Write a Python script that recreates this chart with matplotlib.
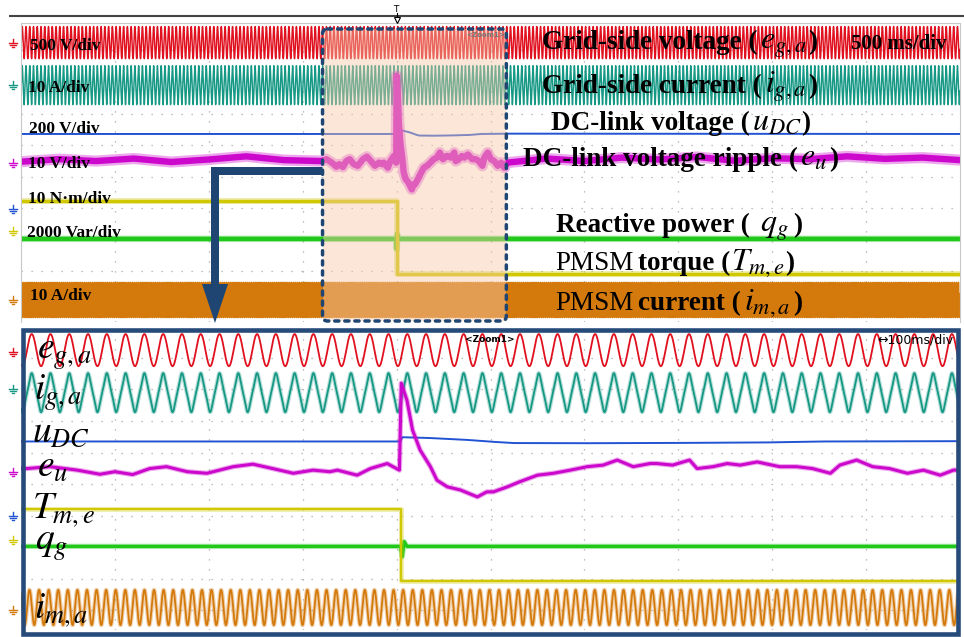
import numpy as np
import matplotlib
matplotlib.use('Agg')
import matplotlib.pyplot as plt
from matplotlib.patches import Polygon, FancyBboxPatch, Rectangle

plt.rcParams['mathtext.fontset'] = 'stix'

# time windows of the two screens (s): 500 ms/div main, 100 ms/div zoom
t_main = (-2.0, 3.0)
t_zoom = (-0.405, 0.595)

# grid side: 50 Hz voltage and current
f_grid = 50.0
e_ga_amp = 255.0          # V
i_ga_harm = [5.6, 0.6]    # A, fundamental and 3rd harmonic
grid_peak_t = 0.0064      # s

# PMSM phase current
f_motor = 98.0
i_ma_amp = 5.6            # A
motor_peak_t = 0.002

# DC-link voltage (V)
udc_t = [-2.0, -0.001, 0.001, 0.03, 0.07, 0.10, 0.12, 0.20, 0.30, 0.39, 0.45, 0.60, 3.0]
udc_v = [480, 480, 507, 502, 490, 477, 470, 469, 471, 474, 480, 482, 480]

# DC-link voltage ripple (V)
eu_t = [-2.0, -1.8, -1.6, -1.4, -1.2, -1.0, -0.8, -0.6,
        -0.399, -0.374, -0.345, -0.321, -0.305, -0.286, -0.268, -0.250, -0.228,
        -0.207, -0.179, -0.158, -0.137, -0.115, -0.094, -0.076, -0.068, -0.047,
        -0.033, -0.015, -0.002,
        0.000, 0.006, 0.012, 0.020, 0.031, 0.038, 0.049, 0.063, 0.081, 0.091,
        0.098, 0.113, 0.126, 0.145, 0.162, 0.180, 0.198, 0.215, 0.230, 0.247,
        0.265, 0.272, 0.289, 0.307, 0.315, 0.332, 0.347, 0.361, 0.379, 0.403,
        0.421, 0.438, 0.457, 0.467, 0.485, 0.502, 0.520, 0.539, 0.556, 0.574, 0.588,
        0.8, 1.0, 1.2, 1.4, 1.6, 1.8, 2.0, 2.2, 2.4, 2.6, 2.8, 3.0]
eu_v = [-0.5, 0.3, -0.3, 0.5, -0.6, 0.2, 1.2, 0.0,
        -0.3, 0.3, -0.8, -2.1, -1.3, -2.2, -0.3, 0.3, -1.3,
        -1.8, 0.3, 1.1, -0.3, -1.8, -0.8, -1.3, -0.8, -2.4,
        -0.3, 1.3, -0.8,
        26.8, 21.4, 11.9, 5.6, 0.3, -4.0, -6.1, -7.1, -9.3, -7.7,
        -7.7, -6.1, -4.5, -2.4, -1.8, -0.8, 0.3, 0.8, 2.4, 0.3,
        1.3, 1.3, 0.8, 2.4, -0.3, 0.3, 1.3, 0.8, 1.8, 0.3,
        0.3, -0.3, -1.8, 0.8, 2.4, 0.3, -0.3, -1.8, -0.8, -2.4, -0.8,
        0.5, -0.3, 0.8, 0.2, 1.0, -0.2, 0.6, 0.3, 1.2, 0.4, 0.8, 0.0]

# PMSM torque (N*m), load step at t = 0
torque_t = [-2.0, 0.0, 0.0, 3.0]
torque_v = [9.8, 9.8, -13.3, -13.3]

# grid reactive power (Var)
q_t = [-2.0, -0.001, 0.001, 0.003, 0.006, 3.0]
q_v = [0, 0, -650, 300, 0, 0]

# volts (units) per division and ground level (div) of each channel
scale = dict(e_ga=500, i_ga=10, udc=200, eu=10, T=10, q=2000, i_ma=10)
ground = dict(e_ga=4.25, i_ga=2.90, udc=-1.05, eu=0.52, T=-1.76, q=-1.98, i_ma=-3.92)

RED = '#e0101e'
TEAL = '#159884'
BLUE = '#2253d2'
MAG = '#cc08cc'
YEL = '#d0c800'
GRN = '#20c81a'
ORG = '#d47a0c'
NAVY = '#1f4573'

fig = plt.figure(figsize=(9.64, 6.37), dpi=100)
W, H = 964, 637


def px_axes(x0, y0, x1, y1):
    a = fig.add_axes([x0 / W, 1 - y1 / H, (x1 - x0) / W, (y1 - y0) / H])
    a.set_axis_off()
    return a


ax_top = px_axes(21, 23, 960, 322)
ax_bot = px_axes(21, 330.5, 960, 629.5)
ylim = (-4.619, 4.873)


def draw_screen(ax, tlim, n, dense):
    ax.set_xlim(*tlim)
    ax.set_ylim(*ylim)
    dot = dict(color='#a8a8a8', lw=0.9, ls=(0, (1, 7)), zorder=0)
    for x in np.linspace(tlim[0], tlim[1], 11)[1:-1]:
        ax.axvline(x, **dot)
    for y in range(-4, 5):
        ax.axhline(y, **dot)

    t = np.linspace(tlim[0], tlim[1], n)
    wg = 2 * np.pi * f_grid * (t - grid_peak_t)
    e_ga = e_ga_amp * np.cos(wg)
    i_ga = i_ga_harm[0] * np.cos(wg) + i_ga_harm[1] * np.cos(3 * wg)
    i_ma = i_ma_amp * np.cos(2 * np.pi * f_motor * (t - motor_peak_t))

    def y(v, ch):
        return ground[ch] + np.asarray(v, dtype=float) / scale[ch]

    lw_s = 1.05 if dense else 1.3
    ax.plot(t, y(e_ga, 'e_ga'), color=RED, lw=lw_s)
    if not dense:
        ax.plot(t, y(i_ga, 'i_ga'), color=TEAL, lw=3.0, alpha=0.3)
    ax.plot(t, y(i_ga, 'i_ga'), color=TEAL, lw=lw_s)
    if not dense:
        ax.plot(t, y(i_ma, 'i_ma'), color=ORG, lw=3.0, alpha=0.35)
    ax.plot(t, y(i_ma, 'i_ma'), color=ORG, lw=lw_s)

    thick = 3.2 if dense else 2.4
    ax.plot(q_t, y(q_v, 'q'), color=GRN, lw=thick + 1.5, alpha=0.35)
    ax.plot(q_t, y(q_v, 'q'), color=GRN, lw=thick)
    ax.plot(torque_t, y(torque_v, 'T'), color=YEL, lw=thick + 1.0, alpha=0.35)
    ax.plot(torque_t, y(torque_v, 'T'), color=YEL, lw=thick - 0.8)
    ax.plot(udc_t, y(udc_v, 'udc'), color=BLUE, lw=1.4)
    ax.plot(eu_t, y(eu_v, 'eu'), color=MAG, lw=8.0 if dense else 3.8, alpha=0.35)
    ax.plot(eu_t, y(eu_v, 'eu'), color=MAG, lw=4.6 if dense else 2.2)


draw_screen(ax_top, t_main, 40001, True)
draw_screen(ax_bot, t_zoom, 8001, False)

# overlay in pixel coordinates for frames, arrow and text
ax_ov = fig.add_axes([0, 0, 1, 1], zorder=5)
ax_ov.set_xlim(0, W)
ax_ov.set_ylim(H, 0)
ax_ov.set_axis_off()
ax_ov.patch.set_alpha(0)


def t2px(t):
    return 21 + (t - t_main[0]) / (t_main[1] - t_main[0]) * 939


# top rule, trigger mark and screen border
ax_ov.plot([9, W], [15.5, 15.5], color='#444444', lw=1.5, solid_capstyle='butt')
ax_ov.plot([20.5, 20.5, 959.5, 959.5], [322, 22.5, 22.5, 322], color='#c8c8c8', lw=0.8)
tx = t2px(0.0)
ax_ov.text(tx - 1, 12, 'T', ha='center', va='baseline', fontsize=6.5, family='DejaVu Sans')
ax_ov.plot([tx, tx], [13, 19], color='black', lw=0.8)
ax_ov.plot([tx], [19.5], marker='v', ms=5, mfc='white', mec='black', mew=0.8)

# highlighted zoom window
zx0, zx1 = t2px(t_zoom[0]) + 2, t2px(t_zoom[1]) - 2
ax_ov.add_patch(Rectangle((zx0, 29), zx1 - zx0, 292, facecolor='#f7c9a8',
                          alpha=0.45, edgecolor='none'))
ax_ov.add_patch(FancyBboxPatch((zx0, 29), zx1 - zx0, 292,
                               boxstyle='round,pad=0,rounding_size=5',
                               fill=False, edgecolor=NAVY, lw=2.5,
                               ls=(0, (1.2, 1.7)), capstyle='round'))
ax_ov.text(486, 35, '<Zoom1>', ha='center', va='center', fontsize=5,
           color='#777777', family='DejaVu Sans', weight='bold')

# arrow from the window down to the zoom screen
ax_ov.add_patch(Polygon([(zx0, 167), (211, 167), (211, 284), (202, 284), (215, 323),
                         (228, 284), (219, 284), (219, 175), (zx0, 175)],
                        closed=True, facecolor=NAVY, edgecolor='none'))

# zoom screen frame
ax_ov.add_patch(Rectangle((23, 329.5), 934.5, 304, fill=False, edgecolor='#264b7b',
                          lw=3.3))
ax_ov.text(490, 340, '<Zoom1>', ha='center', va='center', fontsize=6.5,
           family='DejaVu Sans', weight='bold')
ax_ov.text(953, 340, '\u2194100ms/div', ha='right', va='center', fontsize=9,
           family='DejaVu Sans')


def gnd(x, y, c):
    ax_ov.plot([x, x], [y - 4, y], color=c, lw=1)
    for w, dy in [(4, 0), (2.7, 2), (1.4, 4)]:
        ax_ov.plot([x - w, x + w], [y + dy, y + dy], color=c, lw=1)


for yy, c in [(43, RED), (85, TEAL), (163, MAG), (209, BLUE), (231, YEL), (300, ORG),
              (352, RED), (389, TEAL), (472, MAG), (516, BLUE), (540, YEL), (610, ORG)]:
    gnd(13, yy, c)

DIV = dict(family='Liberation Serif', weight='bold', size=12.5)
for s, x, yb in [('500 V/div', 30, 50), ('10 A/div', 28, 92), ('200 V/div', 29, 133),
                 ('10 V/div', 28, 168), ('10 N\u00b7m/div', 28, 203),
                 ('2000 Var/div', 27, 237), ('10 A/div', 30, 300)]:
    ax_ov.text(x, yb, s, ha='left', va='baseline', **DIV)
ax_ov.text(851, 49, '500 ms/div', ha='left', va='baseline',
           family='Liberation Serif', weight='bold', size=15)

renderer = fig.canvas.get_renderer()


def run_text(x, y, pieces):
    for p in pieces:
        if isinstance(p, (int, float)):
            x += p
            continue
        s, kw = p
        t = ax_ov.text(x, y, s, ha='left', va='baseline', **kw)
        x += t.get_window_extent(renderer).width


BIG = dict(family='Liberation Serif', weight='bold', size=19.5)
REG = dict(family='Liberation Serif', size=19.5)
MATH = dict(size=23)
run_text(542, 49, [('Grid-side voltage (', BIG), 2, (r'$e_{g,a}$', MATH), 2, (')', BIG)])
run_text(542, 93, [('Grid-side current (', BIG), 3, (r'$i_{g,a}$', MATH), 2, (')', BIG)])
run_text(551, 130, [('DC-link voltage (', BIG), 2, (r'$u_{DC}$', MATH), 0, (')', BIG)])
run_text(523, 166, [('DC-link voltage ripple (', BIG), 2, (r'$e_u$', MATH), 2, (')', BIG)])
run_text(556, 232, [('Reactive power ( ', BIG), 4, (r'$q_g$', MATH), 4, (')', BIG)])
run_text(555, 270, [('PMSM', REG), 5, ('torque (', BIG), 0, (r'$T_{m,e}$', MATH), 0, (')', BIG)])
run_text(555, 310, [('PMSM', REG), 5, ('current (', BIG), 3, (r'$i_{m,a}$', MATH), 2, (')', BIG)])

for s, x, yb in [(r'$e_{g,a}$', 37, 359), (r'$i_{g,a}$', 34, 400), (r'$u_{DC}$', 32, 442),
                 (r'$e_u$', 37, 477), (r'$T_{m,e}$', 32, 518), (r'$q_g$', 35, 550),
                 (r'$i_{m,a}$', 34, 618)]:
    ax_ov.text(x, yb, s, ha='left', va='baseline', size=27)

fig.savefig('out.png', dpi=100)
